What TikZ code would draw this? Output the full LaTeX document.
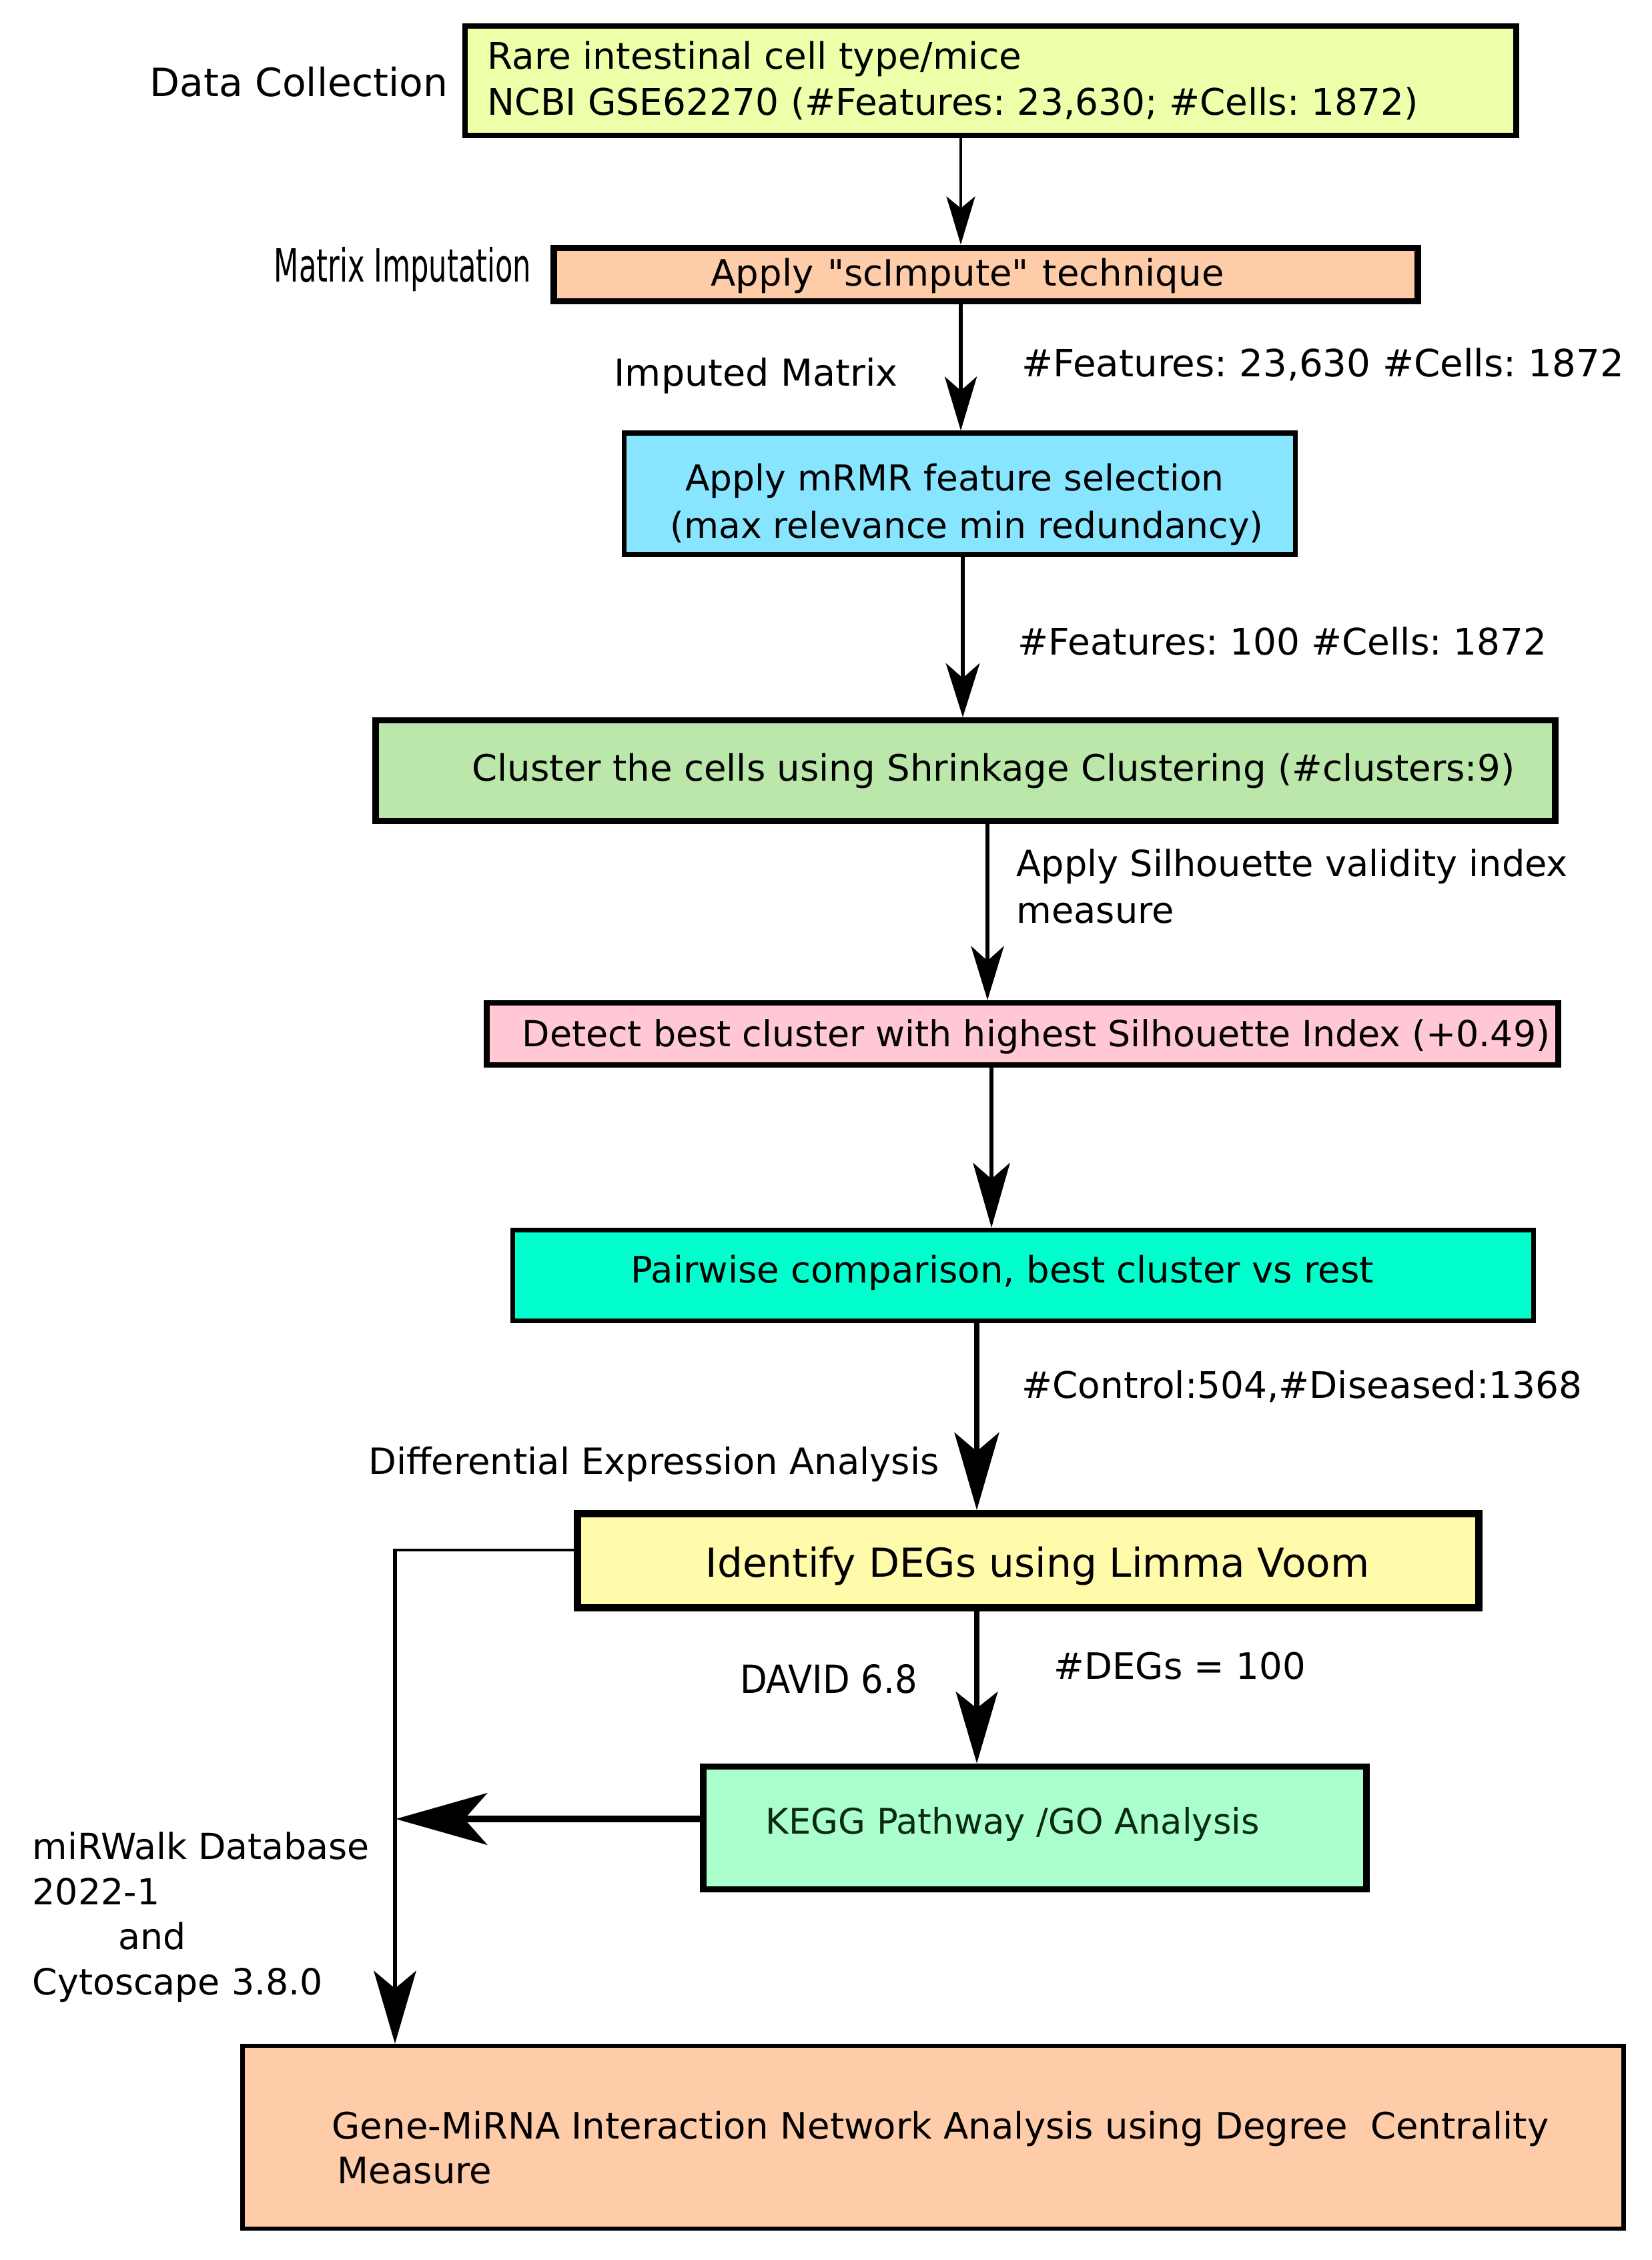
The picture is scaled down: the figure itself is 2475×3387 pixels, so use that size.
\documentclass[tikz,border=0pt]{standalone}
\usepackage{fontspec}
\setmainfont{DejaVu Sans}
\newfontfamily\dvs{DejaVu Sans}
\usetikzlibrary{arrows.meta}
\definecolor{cA}{HTML}{EEFFAA}
\definecolor{cB}{HTML}{FFCCAA}
\definecolor{cC}{HTML}{88E5FF}
\definecolor{cD}{HTML}{BBE8AA}
\definecolor{cE}{HTML}{FFC8D4}
\definecolor{cF}{HTML}{00FFCC}
\definecolor{cG}{HTML}{FFFBAA}
\definecolor{cH}{HTML}{AAFFCC}
\definecolor{cI}{HTML}{FFCCAA}
\definecolor{keggtext}{HTML}{0A2A14}
\newcommand{\fs}[2]{\fontsize{#1}{#2}\selectfont}
\begin{document}
\frenchspacing
\begin{tikzpicture}[x=0.01cm,y=-0.01cm,
  every node/.style={inner sep=0pt},
  font=\fs{15.5}{20},
  box/.style={draw=black, rectangle}]
\useasboundingbox[fill=white] (0,0) rectangle (2475,3387);

% boxes
\node[box, line width=2.3pt, fill=cA, minimum width=15.75cm, minimum height=1.64cm] (b1) at (1484.5,121) {};
\node[box, line width=2.8pt, fill=cB, minimum width=12.95cm, minimum height=0.80cm] (b2) at (1477.5,411.5) {};
\node[box, line width=2.1pt, fill=cC, minimum width=10.05cm, minimum height=1.82cm] (b3) at (1438.5,740) {};
\node[box, line width=2.6pt, fill=cD, minimum width=17.67cm, minimum height=1.51cm] (b4) at (1447,1155) {};
\node[box, line width=2.4pt, fill=cE, minimum width=16.05cm, minimum height=0.93cm] (b5) at (1532.5,1549.5) {};
\node[box, line width=2.0pt, fill=cF, minimum width=15.30cm, minimum height=1.36cm] (b6) at (1533.5,1911.5) {};
\node[box, line width=3.1pt, fill=cG, minimum width=13.51cm, minimum height=1.41cm] (b7) at (1541,2339) {};
\node[box, line width=2.7pt, fill=cH, minimum width=9.93cm, minimum height=1.84cm] (b8) at (1551,2739.5) {};
\node[box, line width=1.8pt, fill=cI, minimum width=20.69cm, minimum height=2.74cm] (b9) at (1398.5,3203) {};

% box texts
\node[anchor=west, align=left, font=\fs{15.6}{19.7}] (t1) at (730,121)
  {Rare intestinal cell type/mice\\NCBI GSE62270 (\#Features: 23,630; \#Cells: 1872)};
\node[font=\dvs\fs{15.5}{20}] (t2) at (1450,413)
  {Apply\hspace{0.38em}"scImpute"\hspace{0.38em}technique};
\node[align=center, font=\fs{15.2}{20.2}] (t3) at (1449,756)
  {Apply mRMR feature selection\hspace*{0.36cm}\\(max relevance min redundancy)};
\node (t4) at (1489,1155) {Cluster the cells using Shrinkage Clustering (\#clusters:9)};
\node[font=\fs{15.3}{20}] (t5) at (1553,1554) {Detect best cluster with highest Silhouette Index (+0.49)};
\node (t6) at (1502,1907) {Pairwise comparison, best cluster vs rest};
\node[font=\fs{17}{20}] (t7) at (1555,2347) {Identify DEGs using Limma Voom};
\node[anchor=west, font=\fs{15}{20}, text=keggtext] (t8) at (1147,2734) {KEGG Pathway /GO Analysis};
\node[anchor=west, align=left, font=\fs{15.5}{19}] (t9) at (497,3219)
  {Gene-MiRNA Interaction Network Analysis using Degree\ \ Centrality\\\hspace*{0.08cm}Measure};

% x positions of connectors
\coordinate (x12) at (1440,0);
\coordinate (x34) at (1443,0);
\coordinate (x45) at (1480,0);
\coordinate (x56) at (1486,0);
\coordinate (x67) at (1464,0);
\coordinate (corner) at (592,2323);
\coordinate (kj) at (593,2726);

% connectors
\draw[line width=1.4pt, -{Stealth[length=20.5pt, width=12.2pt, inset=5pt]}] (b1.south -| x12) -- (b2.north -| x12);
\draw[line width=1.6pt, -{Stealth[length=23pt, width=13.7pt, inset=6pt]}] (b2.south -| x12) -- (b3.north -| x12);
\draw[line width=1.7pt, -{Stealth[length=23pt, width=14.4pt, inset=6.3pt]}] (b3.south -| x34) -- (b4.north -| x34);
\draw[line width=1.6pt, -{Stealth[length=23pt, width=14pt, inset=6.3pt]}] (b4.south -| x45) -- (b5.north -| x45);
\draw[line width=1.8pt, -{Stealth[length=27.6pt, width=15.7pt, inset=6.8pt]}] (b5.south -| x56) -- (b6.north -| x56);
\draw[line width=2.3pt, -{Stealth[length=33pt, width=19pt, inset=8pt]}] (b6.south -| x67) -- (b7.north -| x67);
\draw[line width=2.1pt, -{Stealth[length=30.5pt, width=17.8pt, inset=7pt]}] (b7.south -| x67) -- (b8.north -| x67);
\draw[line width=1.4pt, line cap=rect] (b7.west |- corner) -- (corner);
\draw[line width=1.9pt, shorten <=-0.7pt, -{Stealth[length=31pt, width=18pt, inset=7.5pt]}] (corner) -- (b9.north -| corner);
\draw[line width=2.6pt, -{Stealth[length=39pt, width=22pt, inset=9.7pt]}] (b8.west |- kj) -- (kj);

% side labels
\node[anchor=east, font=\fs{16.6}{20}] (lDC) at (672,123) {Data Collection};
\node[anchor=east] (lMI) at (797,404) {\scalebox{0.63}[1]{\fs{19.5}{20}Matrix Imputation}};
\node[font=\fs{15.8}{20}] (lIM) at (1133,563) {Imputed Matrix};
\node[anchor=west, font=\fs{16}{20}] (lF1) at (1531,546) {\#Features: 23,630 \#Cells: 1872};
\node[anchor=west, font=\fs{15.6}{20}] (lF2) at (1525,961) {\#Features: 100 \#Cells: 1872};
\node[anchor=west, align=left, font=\fs{15.4}{20}] (lSil) at (1523,1328) {Apply Silhouette validity index\\measure};
\node[anchor=west, font=\fs{15.6}{20}] (lCD) at (1531,2078) {\#Control:504,\#Diseased:1368};
\node[font=\fs{15.45}{20}] (lDEA) at (980,2194) {Differential Expression Analysis};
\node (lDAV) at (1242,2516) {\scalebox{0.91}[1]{\fs{16.5}{20}DAVID 6.8}};
\node[anchor=west] (lDEG) at (1579,2497) {\#DEGs = 100};
\node[anchor=west, align=left, font=\fs{15.3}{19.2}] (lMW) at (48,2873)
  {miRWalk Database\\2022-1\\\hspace*{1.29cm}and\\Cytoscape 3.8.0};
\end{tikzpicture}
\end{document}
